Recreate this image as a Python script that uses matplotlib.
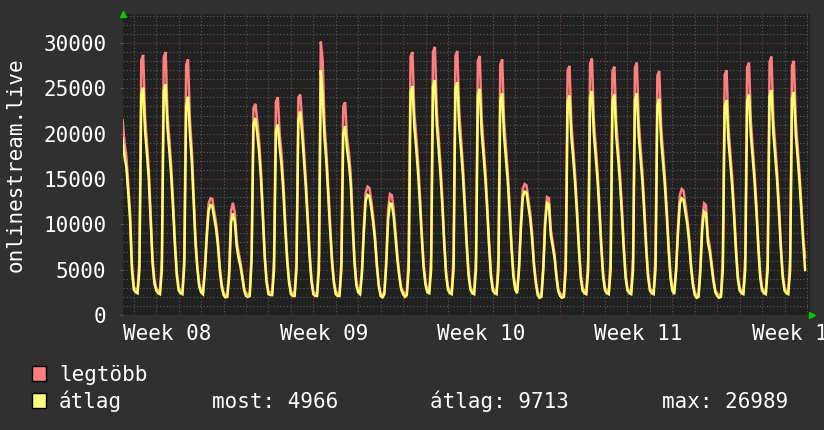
import numpy as np
import matplotlib
matplotlib.use("Agg")
import matplotlib.pyplot as plt
from matplotlib.patches import Rectangle

# ---------------- data (2-hour samples, hours since Monday of Week 08) ----------------
start_hour = 36          # Tuesday, Week 08, 12:00
step_hours = 2

avg_values = [
    # Tue W08 (from 12:00)
    19500, 17500, 16300, 13500, 10500, 5000,
    # Wed W08
    2800, 2500, 2400, 5000, 24300, 25070, 20300, 17800, 15000, 10500, 5800, 3500,
    # Thu W08
    2700, 2400, 2300, 5000, 24700, 25430, 20600, 18100, 15300, 11700, 7600, 4300,
    # Fri W08
    2700, 2400, 2300, 5500, 23000, 24070, 20000, 17000, 12500, 7800, 5000, 3100,
    # Sat W08
    2500, 2300, 4800, 8500, 11500, 12130, 12000, 10700, 9500, 7600, 4900, 3100,
    # Sun W08
    2200, 1950, 2000, 4300, 10200, 11210, 10300, 7600, 6300, 5400, 4100, 2700,
    # Mon W09
    2100, 2000, 2100, 6000, 21000, 21740, 20000, 18000, 15000, 10800, 6300, 3600,
    # Tue W09
    2300, 2200, 2200, 5000, 20300, 21000, 18500, 16500, 13500, 9500, 6000, 3600,
    # Wed W09
    2300, 2100, 2100, 5000, 21500, 22440, 20000, 17000, 14000, 10300, 6500, 3700,
    # Thu W09
    2300, 2100, 2100, 5000, 26989, 24000, 19500, 16800, 13000, 9300, 5800, 3500,
    # Fri W09
    2300, 2100, 2100, 5000, 20000, 20810, 18300, 16800, 14500, 10000, 5800, 3300,
    # Sat W09
    2500, 2300, 4500, 9000, 12600, 13240, 13100, 11800, 10200, 8200, 5300, 3200,
    # Sun W09
    2100, 1950, 2300, 5500, 10500, 12310, 12200, 10800, 8400, 6000, 4200, 2800,
    # Mon W10
    2300, 2000, 2200, 5000, 24500, 25250, 20800, 18400, 15700, 12300, 8500, 5200,
    # Tue W10
    3300, 2500, 2400, 5000, 25200, 25910, 21000, 18400, 15500, 12000, 7800, 4400,
    # Wed W10
    2800, 2400, 2300, 5000, 25000, 25690, 20800, 18200, 15400, 11800, 7700, 4400,
    # Thu W10
    2800, 2400, 2300, 5000, 24200, 24950, 20200, 17700, 15000, 11500, 7500, 4200,
    # Fri W10
    2700, 2400, 2300, 5000, 23700, 24430, 19800, 17300, 14700, 11200, 7300, 4200,
    # Sat W10
    2800, 2400, 5000, 9500, 13000, 13610, 13500, 12000, 10600, 8400, 5400, 3500,
    # Sun W10
    2200, 1900, 2000, 5000, 10000, 12350, 12200, 8800, 7600, 6300, 4200, 2600,
    # Mon W11
    2100, 1900, 2000, 5000, 23500, 24210, 19600, 17200, 14500, 11100, 7300, 4100,
    # Tue W11
    2700, 2400, 2300, 5000, 24000, 24690, 20000, 17500, 14800, 11400, 7400, 4200,
    # Wed W11
    2700, 2400, 2300, 5000, 23600, 24320, 19700, 17300, 14600, 11200, 7300, 4100,
    # Thu W11
    2700, 2400, 2300, 5000, 23700, 24430, 19800, 17300, 14700, 11200, 7300, 4200,
    # Fri W11
    2700, 2400, 2300, 5000, 23100, 23850, 19300, 16900, 14300, 11000, 7200, 4100,
    # Sat W11
    2700, 2300, 4800, 9000, 12300, 12870, 12700, 11300, 10000, 8000, 5200, 3300,
    # Sun W11
    2200, 1900, 2000, 4800, 9500, 11390, 11200, 8000, 7000, 5300, 3700, 2500,
    # Mon W12
    2100, 1900, 2000, 5000, 23000, 23690, 19200, 16800, 14200, 10900, 7100, 4000,
    # Tue W12
    2700, 2400, 2300, 5000, 23600, 24320, 19700, 17300, 14600, 11200, 7300, 4100,
    # Wed W12
    2700, 2400, 2300, 5000, 24100, 24800, 20100, 17600, 14900, 11400, 7400, 4200,
    # Thu W12
    2700, 2400, 2300, 5000, 23900, 24580, 19900, 17400, 14700, 11300, 8000, 4966,
]

max_values = [
    # Tue W08 (from 12:00)
    21500, 19000, 17500, 14500, 11300, 5600,
    # Wed W08
    3100, 2800, 2700, 6200, 28100, 28680, 21900, 19000, 16100, 11300, 6300, 3900,
    # Thu W08
    3000, 2700, 2600, 6200, 28400, 29010, 22200, 19400, 16400, 12500, 8200, 4700,
    # Fri W08
    3000, 2700, 2600, 6500, 27600, 28200, 21500, 18300, 13400, 8400, 5400, 3400,
    # Sat W08
    2800, 2600, 5200, 9200, 12300, 12870, 12800, 11400, 10200, 8200, 5300, 3400,
    # Sun W08
    2500, 2200, 2300, 5000, 11500, 12380, 11300, 8300, 6900, 5900, 4500, 3000,
    # Mon W09
    2400, 2300, 2400, 7000, 22800, 23290, 21500, 19200, 16000, 11600, 6800, 3900,
    # Tue W09
    2600, 2500, 2500, 6500, 23500, 24030, 20000, 17800, 14500, 10200, 6500, 3900,
    # Wed W09
    2600, 2400, 2400, 6000, 24000, 24320, 21500, 18300, 15000, 11000, 7000, 4000,
    # Thu W09
    2600, 2400, 2400, 6500, 30160, 28000, 21000, 18000, 14000, 10000, 6300, 3800,
    # Fri W09
    2600, 2400, 2400, 6000, 23000, 23470, 19600, 18000, 15500, 10800, 6300, 3600,
    # Sat W09
    2800, 2600, 5000, 9800, 13500, 14160, 14000, 12600, 10900, 8700, 5700, 3400,
    # Sun W09
    2300, 2200, 2600, 6200, 11700, 13350, 13200, 11600, 9000, 6500, 4500, 3000,
    # Mon W10
    2600, 2300, 2500, 6500, 28500, 29010, 22400, 19800, 16900, 13300, 9200, 5600,
    # Tue W10
    3600, 2800, 2700, 6500, 29000, 29570, 22700, 19700, 16600, 12800, 8400, 4800,
    # Wed W10
    3100, 2700, 2600, 6500, 28600, 29120, 22500, 19500, 16500, 12600, 8300, 4800,
    # Thu W10
    3100, 2700, 2600, 6500, 28000, 28570, 21800, 18900, 16000, 12300, 8100, 4600,
    # Fri W10
    3000, 2700, 2600, 6500, 27600, 28200, 21400, 18500, 15700, 12000, 7900, 4600,
    # Sat W10
    3100, 2700, 5400, 10200, 13900, 14450, 14300, 12800, 11300, 9000, 5800, 3800,
    # Sun W10
    2500, 2200, 2300, 5600, 10800, 13010, 12900, 9400, 8100, 6700, 4500, 2800,
    # Mon W11
    2400, 2200, 2300, 6500, 27000, 27470, 21200, 18400, 15500, 11900, 7900, 4500,
    # Tue W11
    3000, 2700, 2600, 6500, 27700, 28280, 21600, 18700, 15800, 12200, 8000, 4600,
    # Wed W11
    3000, 2700, 2600, 6500, 26900, 27390, 21300, 18500, 15600, 12000, 7900, 4500,
    # Thu W11
    3000, 2700, 2600, 6500, 27300, 27830, 21400, 18500, 15700, 12000, 7900, 4600,
    # Fri W11
    3000, 2700, 2600, 6500, 26400, 26910, 20800, 18100, 15300, 11800, 7800, 4500,
    # Sat W11
    3000, 2600, 5200, 9700, 13200, 13900, 13700, 12100, 10700, 8600, 5600, 3600,
    # Sun W11
    2500, 2200, 2300, 5500, 10500, 12310, 12100, 8700, 7600, 5800, 4000, 2700,
    # Mon W12
    2400, 2200, 2300, 6500, 26500, 26980, 20700, 18000, 15200, 11700, 7700, 4400,
    # Tue W12
    3000, 2700, 2600, 6500, 27300, 27830, 21300, 18500, 15600, 12000, 7900, 4500,
    # Wed W12
    3000, 2700, 2600, 6500, 27900, 28500, 21700, 18800, 15900, 12200, 8000, 4600,
    # Thu W12
    3000, 2700, 2600, 6500, 27500, 28020, 21500, 18600, 15700, 12100, 8600, 6400,
]

week_labels = ["Week 08", "Week 09", "Week 10", "Week 11", "Week 12"]
y_ticks = [0, 5000, 10000, 15000, 20000, 25000, 30000]
y_label = "onlinestream.live"
legend_names = ["legtöbb", "átlag"]
legend_stats = ["most: 4966", "átlag: 9713", "max: 26989"]

# ---------------- style ----------------
FIG_BG = "#303030"
AX_BG = "#212121"
RED = "#ff7f7f"
YELLOW = "#ffff6e"
MINOR_GRID = "#5a5a5a"
MAJOR_GRID = "#7a3c3c"
FONT = "DejaVu Sans Mono"
FS = 15

W, H = 824, 430
fig = plt.figure(figsize=(W / 100, H / 100), dpi=100, facecolor=FIG_BG)
left, right, top, bottom = 123, 809.5, 14, 315
ax = fig.add_axes([left / W, 1 - bottom / H, (right - left) / W, (bottom - top) / H])
ax.set_facecolor(AX_BG)

t = start_hour + step_hours * np.arange(len(avg_values))

x_min, x_max = 36.43, 770.7
y_min, y_max = 0, 33200
ax.set_xlim(x_min, x_max)
ax.set_ylim(y_min, y_max)

# grid: horizontal every 1000, major every 5000
for v in range(0, 33001, 1000):
    major = (v % 5000 == 0)
    ax.axhline(v, color=MAJOR_GRID if major else MINOR_GRID, lw=0.8,
               ls=(0, (1, 2)), zorder=1)
# vertical: every day, major every week
for h in range(24, 771, 24):
    major = (h % 168 == 0)
    ax.axvline(h, color=MAJOR_GRID if major else MINOR_GRID, lw=0.8,
               ls=(0, (1, 2)), zorder=1)

ax.plot(t, max_values, color=RED, lw=1.8, zorder=3, solid_joinstyle="miter")
ax.plot(t, avg_values, color=YELLOW, lw=1.8, zorder=4, solid_joinstyle="miter")

for s in ax.spines.values():
    s.set_visible(False)

week_mid = [84 + 168 * i for i in range(len(week_labels))]
ax.set_xticks(week_mid)
ax.set_xticklabels(week_labels, fontsize=FS, family=FONT, color="white")
ax.tick_params(axis="x", length=0, pad=6.8)
ax.set_yticks(y_ticks)
ax.set_yticklabels([str(v) for v in y_ticks], fontsize=FS, family=FONT, color="white")
ax.tick_params(axis="y", length=2, color="#555555", pad=10)

# axis arrows
ax.plot([0], [1], marker="^", color="#00cc00", markersize=5,
        transform=ax.transAxes, clip_on=False, zorder=6)
ax.plot([1.004], [0], marker=">", color="#00cc00", markersize=5,
        transform=ax.transAxes, clip_on=False, zorder=6)

fig.text(6 / W, 1 - 164.5 / H, y_label, rotation=90, ha="left", va="center",
         fontsize=FS, family=FONT, color="white")

# legend
rows_baseline = [381, 408]
colors = [RED, "#ffff7f"]
for i, (name, col) in enumerate(zip(legend_names, colors)):
    yb = rows_baseline[i]
    fig.patches.append(Rectangle((32 / W, 1 - (yb) / H), 14 / W, 15 / H,
                                 transform=fig.transFigure, facecolor=col,
                                 edgecolor="black", lw=1))
    fig.text(59 / W, 1 - yb / H, name, ha="left", va="baseline",
             fontsize=FS, family=FONT, color="white")
for xs, s in zip([212, 430, 662], legend_stats):
    fig.text(xs / W, 1 - rows_baseline[1] / H, s, ha="left", va="baseline",
             fontsize=FS, family=FONT, color="white")

fig.savefig("out.png", dpi=100, facecolor=FIG_BG)
